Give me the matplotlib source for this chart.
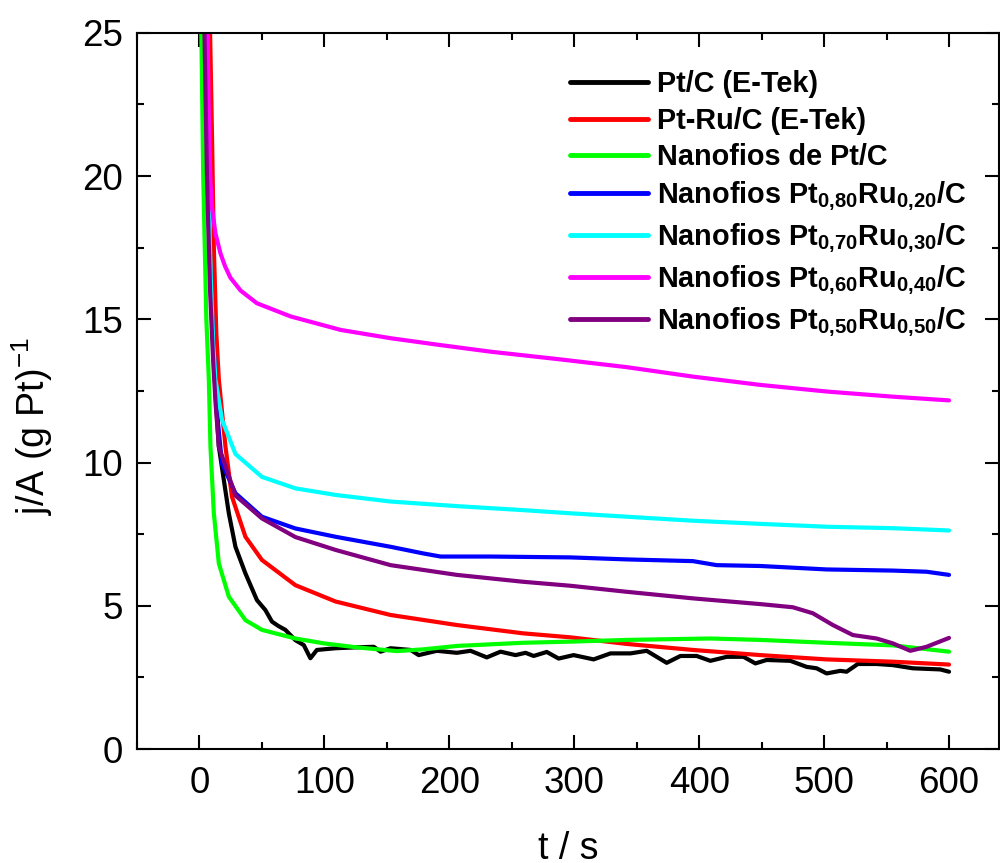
import numpy as np
import matplotlib
matplotlib.use('Agg')
import matplotlib.pyplot as plt
from matplotlib.ticker import MultipleLocator

plt.rcParams['font.family'] = ['Liberation Sans', 'DejaVu Sans']
plt.rcParams['mathtext.fontset'] = 'custom'
plt.rcParams['mathtext.rm'] = 'Liberation Sans'
plt.rcParams['mathtext.it'] = 'Liberation Sans'
plt.rcParams['mathtext.bf'] = 'Liberation Sans:bold'

# Pt/C (E-Tek)
t_ptc = [4.5, 7, 10, 13, 15.5, 19.5, 23.5, 28.8, 36.8, 46, 52.8, 58, 63, 68.8, 76.8, 83.5,
         88.8, 94, 109, 125, 139.5, 145, 153, 169, 175.5, 190, 206, 217, 230, 241, 253, 261,
         267.5, 278, 287.5, 299.5, 315.5, 329, 345, 358, 366, 374, 385, 398, 409, 422,
         435.5, 445, 454, 473, 486, 494, 502, 513, 518, 527, 542, 555, 571, 593, 600]
j_ptc = [25, 19, 15, 12.3, 10.56, 9.39, 8.23, 7.06, 6.13, 5.2, 4.85, 4.45, 4.3, 4.16, 3.8, 3.63,
         3.17, 3.46, 3.52, 3.55, 3.57, 3.4, 3.52, 3.46, 3.28, 3.43, 3.36, 3.43, 3.2, 3.4, 3.28, 3.36,
         3.25, 3.39, 3.16, 3.28, 3.13, 3.34, 3.34, 3.43, 3.22, 3.01, 3.25, 3.25, 3.08, 3.22,
         3.22, 2.99, 3.11, 3.08, 2.87, 2.82, 2.64, 2.73, 2.7, 2.97, 2.97, 2.93, 2.82, 2.78, 2.7]

# Pt-Ru/C (E-Tek)
t_ptru = [8.5, 10, 11.5, 13.5, 15.5, 20.8, 26, 36.8, 50, 76.8, 109, 153, 206, 259, 297,
          342, 395, 449, 502, 555, 600]
j_ptru = [25, 21.5, 17.5, 14.5, 12.9, 10.56, 8.81, 7.41, 6.6, 5.72, 5.15, 4.68, 4.33, 4.04, 3.9,
          3.67, 3.46, 3.28, 3.13, 3.05, 2.95]

# Nanofios de Pt/C
t_nw = [1.5, 3, 5.5, 7.5, 8.8, 11.5, 15.5, 23.5, 36.8, 50, 76.8, 99.5, 126, 158, 179, 206,
        259, 297, 342, 409, 449, 502, 555, 600]
j_nw = [25, 20, 15, 12.9, 10.56, 8.23, 6.48, 5.32, 4.5, 4.16, 3.86, 3.69, 3.55, 3.42, 3.48, 3.6,
        3.71, 3.75, 3.81, 3.86, 3.81, 3.71, 3.62, 3.4]

# Nanofios Pt0,80Ru0,20/C
t_80 = [4.5, 6.5, 9, 12, 15, 18, 28.8, 50, 76.8, 109, 153, 179, 193, 233, 297, 342, 395,
        414, 449, 502, 555, 582, 600]
j_80 = [25, 20, 16, 13.5, 11.3, 9.97, 8.93, 8.11, 7.7, 7.41, 7.06, 6.83, 6.72, 6.72, 6.69,
        6.62, 6.56, 6.42, 6.39, 6.27, 6.23, 6.19, 6.08]

# Nanofios Pt0,70Ru0,30/C
t_70 = [5, 7, 9, 11, 12.8, 18, 28.8, 50, 76.8, 109, 153, 206, 259, 297, 342, 395, 449,
        502, 555, 600]
j_70 = [25, 20, 16.5, 14.2, 12.9, 11.5, 10.3, 9.5, 9.1, 8.87, 8.64, 8.48, 8.34, 8.23, 8.11,
        7.97, 7.86, 7.76, 7.71, 7.63]

# Nanofios Pt0,60Ru0,40/C
t_60 = [6.5, 7.5, 8.8, 10, 12.8, 16.8, 20.5, 24.8, 33, 46, 73, 113, 153, 193, 233, 289, 342,
        395, 449, 502, 555, 600]
j_60 = [25, 22, 19.8, 18.9, 18.0, 17.3, 16.85, 16.45, 16.0, 15.56, 15.1, 14.63, 14.34, 14.1,
        13.87, 13.6, 13.33, 13.0, 12.71, 12.48, 12.3, 12.17]

# Nanofios Pt0,50Ru0,50/C
t_50 = [4, 6, 8.5, 11, 13, 15.5, 28.8, 50, 76.8, 109, 153, 206, 259, 297, 342, 395, 449,
        475, 491, 507, 523, 542, 555, 569, 582, 600]
j_50 = [25, 20, 16, 13.5, 12, 10.56, 8.85, 8.05, 7.4, 6.95, 6.42, 6.08, 5.84, 5.7, 5.49,
        5.26, 5.06, 4.95, 4.74, 4.33, 3.98, 3.86, 3.69, 3.43, 3.57, 3.88]

series = [
    (t_ptc, j_ptc, 'black', 'Pt/C (E-Tek)'),
    (t_ptru, j_ptru, 'red', 'Pt-Ru/C (E-Tek)'),
    (t_nw, j_nw, '#00ff00', 'Nanofios de Pt/C'),
    (t_80, j_80, 'blue', r'Nanofios Pt$_{\mathbf{0{,}80}}$Ru$_{\mathbf{0{,}20}}$/C'),
    (t_70, j_70, 'cyan', r'Nanofios Pt$_{\mathbf{0{,}70}}$Ru$_{\mathbf{0{,}30}}$/C'),
    (t_60, j_60, 'magenta', r'Nanofios Pt$_{\mathbf{0{,}60}}$Ru$_{\mathbf{0{,}40}}$/C'),
    (t_50, j_50, 'purple', r'Nanofios Pt$_{\mathbf{0{,}50}}$Ru$_{\mathbf{0{,}50}}$/C'),
]

fig = plt.figure(figsize=(10, 8.63), dpi=100)
ax = fig.add_axes([0.137, 0.132, 0.862, 0.830])

for t, j, c, lab in series:
    ax.plot(t, j, color=c, lw=3, label=lab, solid_capstyle='round', solid_joinstyle='round')

ax.set_xlim(-50, 640)
ax.set_ylim(0, 25)
ax.xaxis.set_major_locator(MultipleLocator(100))
ax.xaxis.set_minor_locator(MultipleLocator(50))
ax.yaxis.set_major_locator(MultipleLocator(5))
ax.yaxis.set_minor_locator(MultipleLocator(2.5))
ax.tick_params(which='both', direction='in', top=True, right=True, width=1.5)
ax.tick_params(which='major', length=10, labelsize=26.5)
ax.tick_params(axis='x', which='major', pad=12)
ax.tick_params(axis='y', which='major', pad=10)
ax.tick_params(which='minor', length=5)
for s in ax.spines.values():
    s.set_linewidth(1.5)

ax.set_xlabel('t / s', fontsize=27, labelpad=22)
ax.set_ylabel(r'j/A (g Pt)$^{-1}$', fontsize=27)
ax.yaxis.set_label_coords(-0.095, 0.451)

leg = ax.legend(loc='upper left', bbox_to_anchor=(0.502, 0.948), frameon=False,
                prop={'weight': 'bold', 'size': 20.8}, handlelength=2.7,
                handletextpad=0.31, labelspacing=0.3, borderpad=0, borderaxespad=0)
for line in leg.get_lines():
    line.set_linewidth(3.5)

fig.savefig('out.png', dpi=100)
